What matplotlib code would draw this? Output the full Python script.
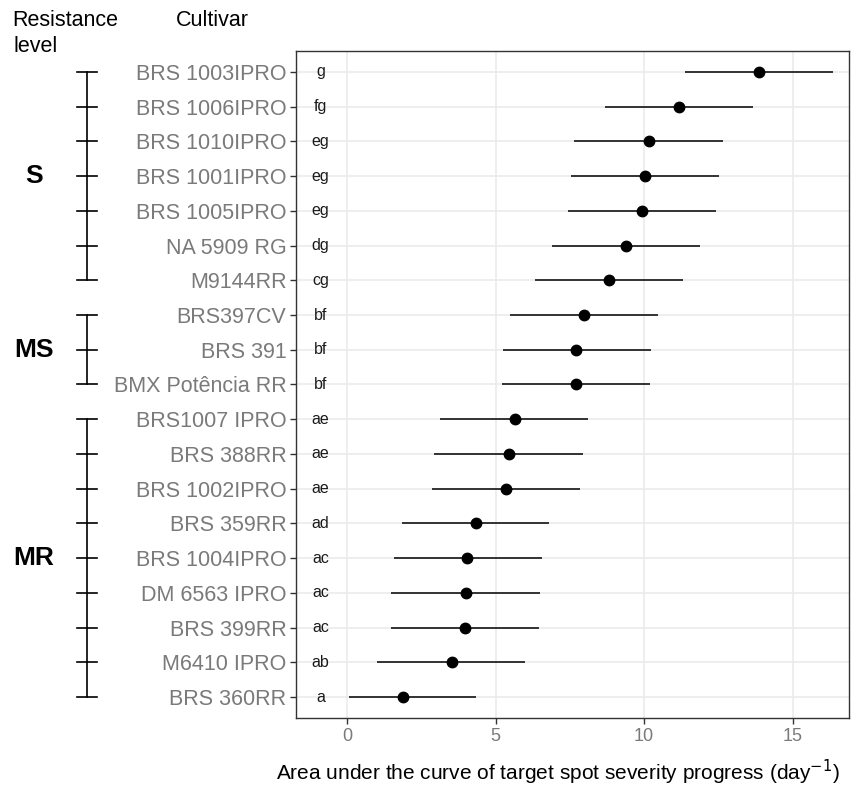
import numpy as np
import matplotlib
matplotlib.use("Agg")
import matplotlib.pyplot as plt
from matplotlib.transforms import blended_transform_factory

plt.rcParams['font.family'] = ['Liberation Sans', 'DejaVu Sans']

# data, top row first
cultivars = ["BRS 1003IPRO", "BRS 1006IPRO", "BRS 1010IPRO", "BRS 1001IPRO",
             "BRS 1005IPRO", "NA 5909 RG", "M9144RR", "BRS397CV", "BRS 391",
             "BMX Potência RR", "BRS1007 IPRO", "BRS 388RR", "BRS 1002IPRO",
             "BRS 359RR", "BRS 1004IPRO", "DM 6563 IPRO", "BRS 399RR",
             "M6410 IPRO", "BRS 360RR"]
audpc = [13.86, 11.19, 10.15, 10.02, 9.94, 9.40, 8.80, 7.99, 7.72, 7.70,
         5.64, 5.44, 5.36, 4.33, 4.05, 3.99, 3.97, 3.52, 1.87]
ci_low = [11.37, 8.68, 7.64, 7.53, 7.43, 6.90, 6.32, 5.49, 5.24, 5.20,
          3.14, 2.93, 2.86, 1.84, 1.56, 1.49, 1.47, 1.01, 0.05]
ci_high = [16.35, 13.68, 12.65, 12.51, 12.43, 11.87, 11.30, 10.46, 10.22, 10.19,
           8.12, 7.93, 7.85, 6.81, 6.55, 6.48, 6.45, 6.00, 4.35]
letters = ["g", "fg", "eg", "eg", "eg", "dg", "cg", "bf", "bf", "bf",
           "ae", "ae", "ae", "ad", "ac", "ac", "ac", "ab", "a"]
groups = [("S", 0, 6), ("MS", 7, 9), ("MR", 10, 18)]

n = len(cultivars)
ypos = np.arange(n)[::-1] + 1  # top row gets the highest y

fig = plt.figure(figsize=(8.51, 7.85), dpi=100)
ax = fig.add_axes([0.348, 0.0854, 0.6497, 0.8496])

ax.hlines(ypos, ci_low, ci_high, color="black", lw=1.1, zorder=3)
ax.plot(audpc, ypos, "o", color="black", ms=7.5, zorder=4)
for y, lab in zip(ypos, letters):
    ax.text(-0.9, y, lab, ha="center", va="center", fontsize=11.5, color="#1a1a1a")

ax.set_xlim(-1.72, 16.9)
ax.set_ylim(0.4, n + 0.6)
ax.set_xticks([0, 5, 10, 15])
ax.set_yticks(ypos)
ax.set_yticklabels(cultivars)
ax.grid(True, color="#EBEBEB", lw=1.2, zorder=0)
ax.set_axisbelow(True)
for s in ax.spines.values():
    s.set_color("#333333")
    s.set_linewidth(1.0)
ax.tick_params(axis="both", colors="#333333", length=4, width=1.0)
ax.tick_params(axis="y", labelsize=15.5, labelcolor="#7a7a7a", pad=3)
ax.tick_params(axis="x", labelsize=13, labelcolor="#7a7a7a", pad=3)

# x title sits a bit left of the panel centre in the original
fig.text(558 / 851, 1 - 772 / 785,
         "Area under the curve of target spot severity progress (day$^{-1}$)",
         ha="center", va="center", fontsize=15)

# resistance-level brackets on the left
tr = blended_transform_factory(fig.transFigure, ax.transData)
xb = 87 / 851
tick = 10 / 851
for name, i0, i1 in groups:
    ax.plot([xb, xb], [ypos[i0], ypos[i1]], color="black", lw=1.2,
            transform=tr, clip_on=False)
    for i in range(i0, i1 + 1):
        ax.plot([xb - tick, xb + tick], [ypos[i], ypos[i]], color="black",
                lw=1.2, transform=tr, clip_on=False)
    mid = (ypos[i0] + ypos[i1]) / 2
    ax.text(34 / 851, mid, name, transform=tr, ha="center", va="center",
            fontsize=19, fontweight="bold")

fig.text(65 / 851, 1 - 20 / 785, "Resistance", ha="center", va="center", fontsize=15.5)
fig.text(36 / 851, 1 - 47 / 785, "level", ha="center", va="center", fontsize=15.5)
fig.text(212 / 851, 1 - 20 / 785, "Cultivar", ha="center", va="center", fontsize=15.5)

fig.savefig("out.png", dpi=100)
